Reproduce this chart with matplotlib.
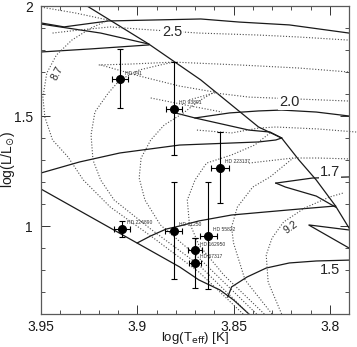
import matplotlib
matplotlib.use("Agg")
import matplotlib.pyplot as plt
from matplotlib.ticker import MultipleLocator

plt.rcParams['font.family'] = ['Liberation Sans', 'DejaVu Sans']

# ---------------- stars ----------------
star_names = ["HD 341", "HD 93891", "HD 223137", "HD 224890", "HD 61250",
              "HD 55822", "HD 162950", "HD 67317"]
star_logT = [3.909, 3.881, 3.857, 3.908, 3.881, 3.863, 3.870, 3.870]
star_logL = [1.668, 1.532, 1.264, 0.988, 0.979, 0.955, 0.891, 0.833]
star_errT = [0.004, 0.004, 0.0045, 0.004, 0.0045, 0.0043, 0.0035, 0.003]
star_errL_lo = [0.132, 0.209, 0.159, 0.037, 0.221, 0.243, 0.055, 0.115]
star_errL_hi = [0.136, 0.213, 0.163, 0.035, 0.222, 0.244, 0.055, 0.112]

# ---------------- solid lines (tracks, ZAMS, TAMS) ----------------
zams_T = [3.950, 3.914, 3.878, 3.868, 3.857, 3.850, 3.842]
zams_L = [1.168, 0.991, 0.814, 0.755, 0.709, 0.664, 0.600]

tams_T = [3.927, 3.894, 3.867, 3.837, 3.825, 3.816, 3.807, 3.797, 3.790]
tams_L = [2.005, 1.827, 1.664, 1.450, 1.400, 1.300, 1.209, 1.091, 0.991]

m25_ms_T = [3.950, 3.924, 3.894]
m25_ms_L = [1.791, 1.805, 1.823]
m25_hook_T = [3.894, 3.919, 3.950]
m25_hook_L = [1.827, 1.877, 1.918]
m25_cross_T = [3.950, 3.938, 3.915, 3.867, 3.847, 3.821, 3.790]
m25_cross_L = [1.923, 1.905, 1.932, 1.941, 1.927, 1.914, 1.877]

m20_ms_T = [3.950, 3.930, 3.909, 3.878, 3.837, 3.828, 3.825]
m20_ms_L = [1.241, 1.291, 1.332, 1.368, 1.382, 1.391, 1.400]
m20_hook_T = [3.825, 3.831, 3.842, 3.870, 3.882]
m20_hook_L = [1.400, 1.427, 1.436, 1.491, 1.518]
m20_cross_T = [3.870, 3.852, 3.837, 3.825, 3.807, 3.790]
m20_cross_L = [1.491, 1.514, 1.523, 1.527, 1.518, 1.500]

m17_ms_T = [3.900, 3.893, 3.885, 3.878, 3.868, 3.851, 3.833, 3.816, 3.797]
m17_ms_L = [0.923, 0.955, 0.986, 1.000, 1.023, 1.050, 1.064, 1.077, 1.091]
m17_hook_T = [3.797, 3.807, 3.823, 3.828]
m17_hook_L = [1.086, 1.136, 1.177, 1.195]
m17_cross_T = [3.828, 3.809, 3.790]
m17_cross_L = [1.195, 1.218, 1.223]

m15_ms_T = [3.853, 3.851, 3.843, 3.833, 3.821, 3.807, 3.790]
m15_ms_L = [0.677, 0.723, 0.768, 0.809, 0.832, 0.841, 0.845]
m15_hook_T = [3.790, 3.811, 3.790]
m15_hook_L = [0.900, 1.005, 0.982]

# ---------------- dotted lines (isochrones) ----------------
iso87_T = [3.845, 3.868, 3.893, 3.914, 3.928, 3.936, 3.944, 3.948, 3.949,
           3.947, 3.942, 3.934, 3.924, 3.915]
iso87_L = [0.600, 0.791, 0.955, 1.086, 1.209, 1.314, 1.391, 1.495, 1.586,
           1.695, 1.777, 1.845, 1.900, 1.936]
iso87_hook_T = [3.950, 3.932, 3.915]
iso87_hook_L = [1.995, 1.968, 1.936]
iso87_cross_T = [3.944, 3.930, 3.914, 3.899, 3.868, 3.837, 3.816, 3.790]
iso87_cross_L = [1.877, 1.891, 1.905, 1.895, 1.877, 1.868, 1.859, 1.845]

iso88_T = [3.842, 3.868, 3.893, 3.912, 3.919, 3.923, 3.924, 3.922, 3.915,
           3.909, 3.899, 3.888, 3.881]
iso88_L = [0.600, 0.823, 0.986, 1.118, 1.209, 1.300, 1.414, 1.518, 1.605,
           1.664, 1.709, 1.732, 1.745]
iso88_cross_T = [3.920, 3.904, 3.881, 3.847, 3.816, 3.790]
iso88_cross_L = [1.732, 1.736, 1.745, 1.732, 1.718, 1.700]

iso89_hook_T = [3.919, 3.899, 3.878, 3.860]
iso89_hook_L = [1.732, 1.682, 1.636, 1.609]
iso89_T = [3.838, 3.868, 3.888, 3.896, 3.899, 3.898, 3.893, 3.886, 3.876,
           3.868, 3.860]
iso89_L = [0.600, 0.855, 1.005, 1.118, 1.218, 1.309, 1.391, 1.459, 1.514,
           1.568, 1.609]
iso89_cross_T = [3.873, 3.860, 3.842, 3.816, 3.790]
iso89_cross_L = [1.573, 1.605, 1.586, 1.577, 1.568]

iso90_hook_T = [3.893, 3.875, 3.856]
iso90_hook_L = [1.582, 1.550, 1.518]
iso90_T = [3.834, 3.855, 3.868, 3.873, 3.874, 3.870, 3.864, 3.851, 3.839,
           3.831]
iso90_L = [0.600, 0.777, 0.914, 1.018, 1.118, 1.209, 1.286, 1.323, 1.368,
           1.423]
iso90_cross_T = [3.869, 3.851, 3.837, 3.828, 3.806, 3.786]
iso90_cross_L = [1.436, 1.423, 1.445, 1.450, 1.441, 1.427]

iso91_T = [3.830, 3.844, 3.850, 3.851, 3.848, 3.840, 3.831, 3.819]
iso91_L = [0.600, 0.755, 0.923, 0.995, 1.086, 1.177, 1.223, 1.309]
iso91_cross_T = [3.842, 3.819, 3.806, 3.790]
iso91_cross_L = [1.286, 1.309, 1.309, 1.305]

iso92_T = [3.825, 3.832, 3.833, 3.830, 3.824, 3.813, 3.800, 3.793]
iso92_L = [0.600, 0.745, 0.868, 0.945, 1.018, 1.082, 1.132, 1.150]

# ---------------- labels ----------------
mass_labels = ["2.5", "2.0", "1.7", "1.5"]
mass_lab_T = [3.882, 3.821, 3.800, 3.800]
mass_lab_L = [1.882, 1.564, 1.245, 0.800]
age_labels = ["8.7", "9.2"]
age_lab_T = [3.9415, 3.8205]
age_lab_L = [1.695, 0.995]
age_lab_rot = [62, 35]

# ---------------- figure ----------------
fig = plt.figure(figsize=(3.57, 3.47), dpi=100)
ax = fig.add_axes([41 / 357, 1 - 314 / 347, 308 / 357, 308 / 347])

solid_kw = dict(color='0.1', lw=0.9, solid_joinstyle='miter')
for T, L in [(zams_T, zams_L), (tams_T, tams_L),
             (m25_ms_T, m25_ms_L), (m25_hook_T, m25_hook_L), (m25_cross_T, m25_cross_L),
             (m20_ms_T, m20_ms_L), (m20_hook_T, m20_hook_L), (m20_cross_T, m20_cross_L),
             (m17_ms_T, m17_ms_L), (m17_hook_T, m17_hook_L), (m17_cross_T, m17_cross_L),
             (m15_ms_T, m15_ms_L), (m15_hook_T, m15_hook_L)]:
    ax.plot(T, L, **solid_kw)

dot_kw = dict(color='0.3', lw=0.8, ls=(0, (1, 1.6)))
for T, L in [(iso87_T, iso87_L), (iso87_hook_T, iso87_hook_L), (iso87_cross_T, iso87_cross_L),
             (iso88_T, iso88_L), (iso88_cross_T, iso88_cross_L),
             (iso89_hook_T, iso89_hook_L), (iso89_T, iso89_L), (iso89_cross_T, iso89_cross_L),
             (iso90_hook_T, iso90_hook_L), (iso90_T, iso90_L),
             (iso91_T, iso91_L), (iso91_cross_T, iso91_cross_L),
             (iso92_T, iso92_L)]:
    ax.plot(T, L, **dot_kw)
# this one runs slightly past the right frame in the original
ax.plot(iso90_cross_T, iso90_cross_L, clip_on=False, **dot_kw)

for s, T, L in zip(mass_labels, mass_lab_T, mass_lab_L):
    ax.text(T, L, s, fontsize=10.5, ha='center', va='center', color='0.15',
            bbox=dict(facecolor='white', edgecolor='none', pad=0.5))
for s, T, L, r in zip(age_labels, age_lab_T, age_lab_L, age_lab_rot):
    ax.text(T, L, s, fontsize=7.5, ha='center', va='center', rotation=r,
            color='0.15', bbox=dict(facecolor='white', edgecolor='none', pad=0.3))

# stars
ax.errorbar(star_logT, star_logL, xerr=star_errT,
            yerr=[star_errL_lo, star_errL_hi], fmt='o', color='black',
            ms=5.5, elinewidth=0.8, capsize=2.2, capthick=0.8, zorder=5)
for n, T, L in zip(star_names, star_logT, star_logL):
    ax.annotate(n, (T, L), xytext=(3.5, 2.5), textcoords='offset points',
                fontsize=3.6, ha='left', va='bottom', color='0.2', zorder=6)

ax.set_xlim(3.95, 3.79)
ax.set_ylim(0.6, 2.0)
ax.xaxis.set_major_locator(MultipleLocator(0.05))
ax.xaxis.set_minor_locator(MultipleLocator(0.01))
ax.yaxis.set_major_locator(MultipleLocator(0.5))
ax.yaxis.set_minor_locator(MultipleLocator(0.1))
ax.set_xticks([3.95, 3.9, 3.85, 3.8])
ax.set_xticklabels(["3.95", "3.9", "3.85", "3.8"])
ax.set_yticks([1.0, 1.5, 2.0])
ax.set_yticklabels(["1", "1.5", "2"])
ax.tick_params(which='both', direction='in', top=True, right=True,
               colors='0.2', labelcolor='0.1', labelsize=10)
ax.tick_params(which='major', length=6.5, width=0.7, pad=6)
ax.tick_params(axis='x', which='major', pad=4)
ax.tick_params(which='minor', length=3, width=0.6)
for sp in ax.spines.values():
    sp.set_linewidth(0.9)
    sp.set_color('0.35')

ax.set_xlabel(r"log(T$_{\rm eff}$) [K]", fontsize=9.5, color='0.1', va='bottom')
ax.xaxis.set_label_coords(0.5, -(346.5 - 314) / 308)
ax.set_ylabel(r"log(L/L$_{\odot}$)", fontsize=10, color='0.1')
ax.yaxis.set_label_coords(-(41 - 17) / 308, 0.5)

fig.savefig("out.png", dpi=100)
